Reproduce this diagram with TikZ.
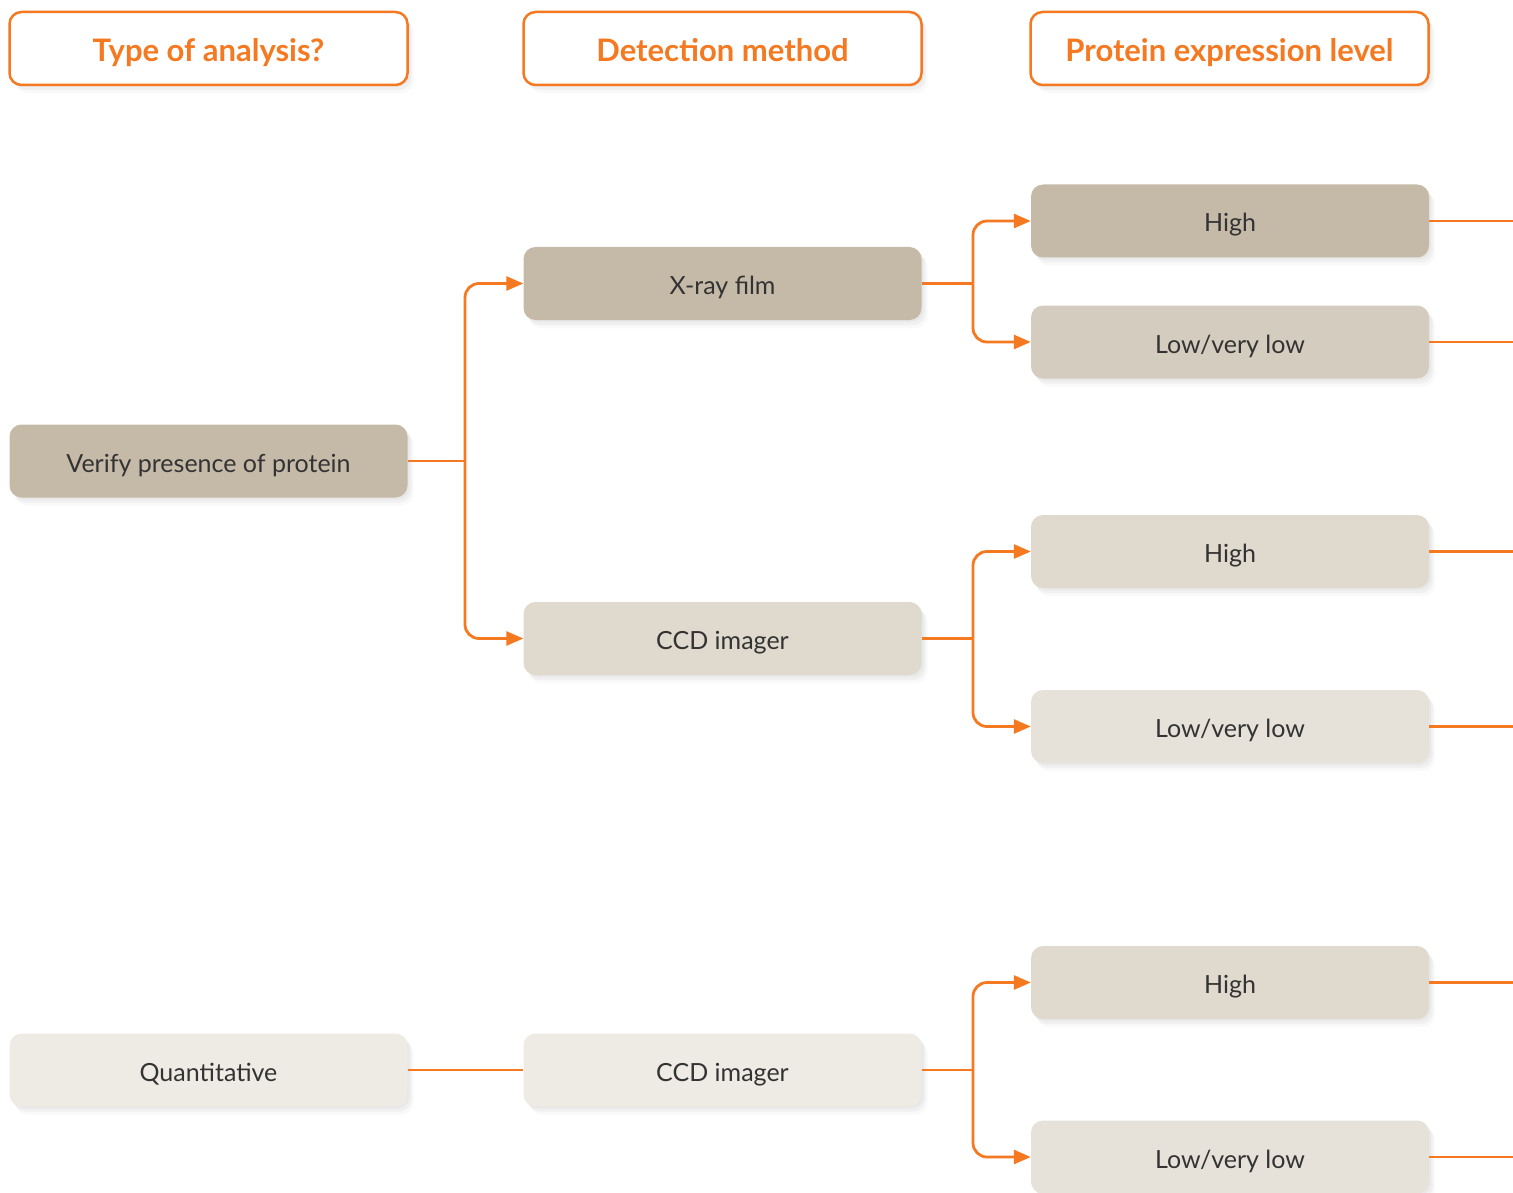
\documentclass[tikz,border=0pt]{standalone}
\usepackage{fontspec}
\setmainfont{Lato}
\usetikzlibrary{shadows,arrows.meta}
\definecolor{ora}{HTML}{F47920}
\definecolor{txt}{HTML}{333333}
\definecolor{cA}{HTML}{C5BAA8}
\definecolor{cB}{HTML}{D4CCBE}
\definecolor{cC}{HTML}{E0D9CD}
\definecolor{cD}{HTML}{E6E1D9}
\definecolor{cE}{HTML}{EEEAE4}
\tikzset{
  box/.style={rounded corners=12pt, minimum width=398pt, minimum height=73pt,
    inner sep=0pt, text=txt, font=\fontsize{25}{28}\selectfont,
    text height=24pt, text depth=2pt,
    drop shadow={opacity=0.07, shadow xshift=2pt, shadow yshift=-2pt},
    drop shadow={opacity=0.07, shadow xshift=4pt, shadow yshift=-5pt},
    drop shadow={opacity=0.05, shadow xshift=6pt, shadow yshift=-8pt}},
  head/.style={box, draw=ora, line width=2.5pt, fill=white, text=ora,
    font=\bfseries\fontsize{31}{34}\selectfont, text height=28pt, text depth=2pt},
  conn/.style={draw=ora, line width=2.8pt},
  arr/.style={conn, rounded corners=14pt, -{Triangle[length=17pt,width=14pt]}},
}
\begin{document}
\begin{tikzpicture}[x=1pt,y=-1pt]
\useasboundingbox (0,0) rectangle (1513,1193);
% headers
\node[head] (h1) at (208.5,48.5) {Type of analysis?};
\node[head] (h2) at (722.5,48.5) {Detection method};
\node[head] (h3) at (1229.5,48.5) {Protein expression level};
% column 1
\node[box, fill=cA] (verify) at (208.5,461) {Verify presence of protein};
\node[box, fill=cE] (quant) at (208.5,1070) {Quantitative};
% column 2
\node[box, fill=cA] (xray) at (722.5,283.5) {X-ray film};
\node[box, fill=cC] (ccdA) at (722.5,638.5) {CCD imager};
\node[box, fill=cE] (ccdB) at (722.5,1070) {CCD imager};
% column 3
\node[box, fill=cA] (hiA) at (1230,221) {High};
\node[box, fill=cB] (loA) at (1230,342) {Low/very low};
\node[box, fill=cC] (hiB) at (1230,551.5) {High};
\node[box, fill=cD] (loB) at (1230,726.5) {Low/very low};
\node[box, fill=cC] (hiC) at (1230,982.5) {High};
\node[box, fill=cD] (loC) at (1230,1157) {Low/very low};
% junctions
\coordinate (j1) at (465,461);
\coordinate (j2) at (973,283.5);
\coordinate (j3) at (973,638.5);
\coordinate (j4) at (973,1070);
\draw[conn] (verify.east) -- (j1);
\draw[arr] (j1) |- (xray.west);
\draw[arr] (j1) |- (ccdA.west);
\draw[conn] (xray.east) -- (j2);
\draw[arr] (j2) |- (hiA.west);
\draw[arr] (j2) |- (loA.west);
\draw[conn] (ccdA.east) -- (j3);
\draw[arr] (j3) |- (hiB.west);
\draw[arr] (j3) |- (loB.west);
\draw[conn] (quant.east) -- (ccdB.west);
\draw[conn] (ccdB.east) -- (j4);
\draw[arr] (j4) |- (hiC.west);
\draw[arr] (j4) |- (loC.west);
% outputs
\coordinate (oA) at (1513,221);
\coordinate (oB) at (1513,342);
\coordinate (oC) at (1513,551.5);
\coordinate (oD) at (1513,726.5);
\coordinate (oE) at (1513,982.5);
\coordinate (oF) at (1513,1157);
\draw[conn] (hiA.east) -- (oA);
\draw[conn] (loA.east) -- (oB);
\draw[conn] (hiB.east) -- (oC);
\draw[conn] (loB.east) -- (oD);
\draw[conn] (hiC.east) -- (oE);
\draw[conn] (loC.east) -- (oF);
\end{tikzpicture}
\end{document}
